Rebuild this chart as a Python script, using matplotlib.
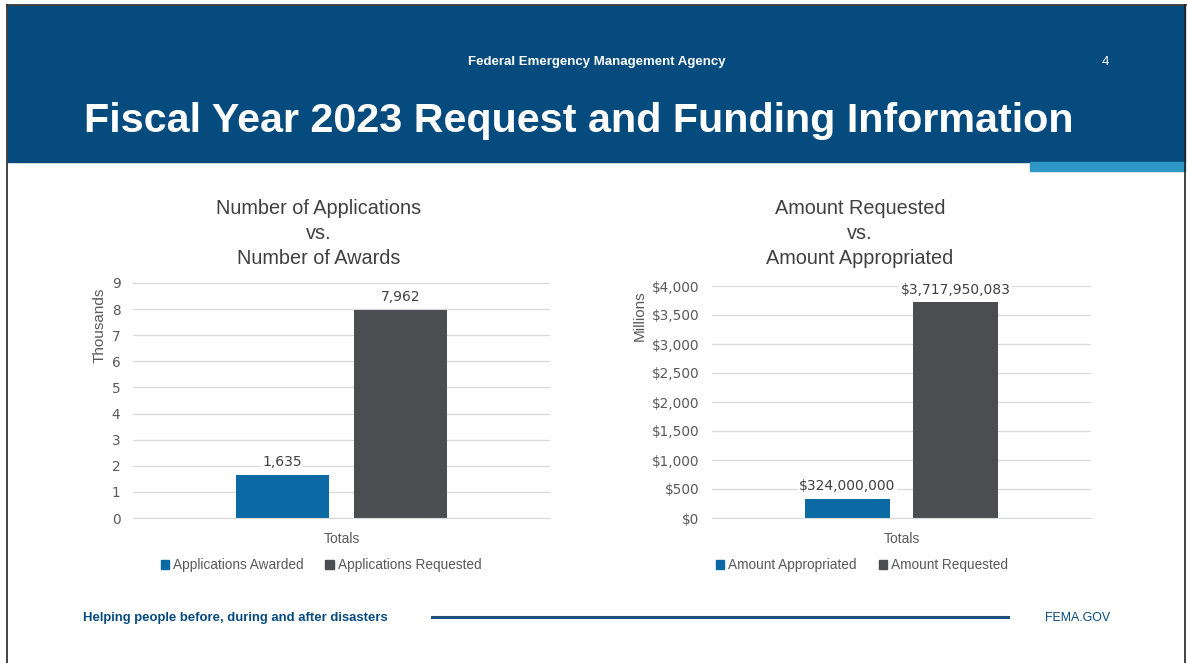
import matplotlib
matplotlib.use('Agg')
import matplotlib.pyplot as plt
from matplotlib.patches import Rectangle, Patch
from matplotlib.lines import Line2D

# data
categories = ['Totals']
app_series = ['Applications Awarded', 'Applications Requested']
app_values = [1635, 7962]
amt_series = ['Amount Appropriated', 'Amount Requested']
amt_values = [324000000, 3717950083]
app_ticks = list(range(0, 10))
amt_ticks = list(range(0, 4001, 500))

W, H = 1188, 663
BLUE_HDR = '#064b7e'
ACCENT = '#2f97c6'
BAR_COLORS = ['#0b6aa3', '#4b4d50']
TXT = '#404040'
TICK = '#595959'
WORD_FONT = ['Liberation Sans', 'DejaVu Sans']
NUM_FONT = ['DejaVu Sans']
COND_FONT = ['Liberation Sans Narrow', 'Liberation Sans', 'DejaVu Sans']

fig = plt.figure(figsize=(W / 100, H / 100), dpi=100)
fig.patch.set_facecolor('white')


def px(x, y):
    return x / W, 1 - y / H


def fig_rect(x0, y0, x1, y1, color):
    fig.patches.append(Rectangle(px(x0, y1), (x1 - x0) / W, (y1 - y0) / H,
                                 transform=fig.transFigure, color=color, zorder=0))


def fig_line(x0, y0, x1, y1, color, lw):
    a, b = px(x0, y0)
    c, d = px(x1, y1)
    fig.lines.append(Line2D([a, c], [b, d], transform=fig.transFigure, color=color, lw=lw))


def fit_text(s, x0, x1, y, size, **kw):
    # draw text left aligned and shrink/grow it to span x0..x1 pixels
    t = fig.text(*px(x0, y), s, fontsize=size, ha='left', va='center', **kw)
    r = fig.canvas.get_renderer()
    w = t.get_window_extent(r).width
    t.set_fontsize(size * (x1 - x0) / w)
    return t


# header band
fig_rect(8, 6, 1185, 162, BLUE_HDR)
fig_rect(1030, 162, 1185, 171, ACCENT)
fig_line(7, 5, 1186, 5, '#222222', 1.2)
fig_line(7, 5, 7, 663, '#222222', 1.2)
fig_line(1185, 5, 1185, 663, '#222222', 1.2)

fit_text('Federal Emergency Management Agency', 468, 725, 62, 9, color='white',
         family=COND_FONT, fontweight='bold')
fig.text(*px(1105, 62), '4', color='white', fontsize=9.5, ha='center', va='center',
         family=WORD_FONT)
fit_text('Fiscal Year 2023 Request and Funding Information', 84, 1073, 121, 28,
         color='white', family=WORD_FONT, fontweight='heavy')

# footer
fit_text('Helping people before, during and after disasters', 83, 390, 618, 9,
         color=BLUE_HDR, family=COND_FONT, fontweight='bold')
fig_line(432, 617, 1008, 617, '#1d4f78', 2.2)
fit_text('FEMA.GOV', 1045, 1110, 618, 9, color=BLUE_HDR, family=COND_FONT)


def bar_chart(box, series, values, scale, ticks, tick_fmt, label_fmt, unit,
              unit_xy, title, title_x, legend_x, bar_w, offset):
    x0, y0, x1, y1 = box
    ax = fig.add_axes([x0 / W, 1 - y1 / H, (x1 - x0) / W, (y1 - y0) / H])
    for i, (name, v) in enumerate(zip(series, values)):
        xpos = 0 + (i - 0.5) * 2 * offset
        ax.bar(xpos, v / scale, width=bar_w, color=BAR_COLORS[i], zorder=2, label=name)
        ax.text(xpos, v / scale + ticks[-1] * 0.025, label_fmt(v), ha='center', va='bottom',
                fontsize=10, color=TXT, family=NUM_FONT, zorder=3,
                bbox=dict(facecolor='white', edgecolor='none', pad=1))
    ax.set_xlim(-0.5, 0.5)
    ax.set_ylim(ticks[0], ticks[-1])
    ax.set_yticks(ticks)
    ax.set_yticklabels([tick_fmt(t) for t in ticks], family=NUM_FONT, fontsize=9.8, color=TICK)
    ax.set_xticks([0])
    ax.set_xticklabels(categories, family=WORD_FONT, fontsize=10, color=TICK)
    ax.tick_params(axis='both', length=0)
    ax.tick_params(axis='y', pad=9)
    ax.tick_params(axis='x', pad=10)
    ax.grid(axis='y', color='#d9d9d9', lw=0.9, zorder=0)
    for s in ax.spines.values():
        s.set_visible(False)
    ax.spines['bottom'].set_visible(True)
    ax.spines['bottom'].set_color('#d9d9d9')

    fig.text(*px(*unit_xy), unit, rotation=90, ha='center', va='center',
             fontsize=11, color=TICK, family=WORD_FONT)
    for k, line in enumerate(title):
        fig.text(*px(title_x, 208 + k * 25.5), line, ha='center', va='center',
                 fontsize=14.3, color=TXT, family=WORD_FONT)
    handles = [Patch(color=c, label=n) for c, n in zip(BAR_COLORS, series)]
    fig.legend(handles=handles, loc='center', bbox_to_anchor=px(legend_x, 565), ncol=2,
               frameon=False, handlelength=0.6, handleheight=0.6, handletextpad=0.3,
               columnspacing=1.6, prop={'family': WORD_FONT, 'size': 9.8},
               labelcolor=TICK)
    return ax


bar_chart((133, 283, 550, 518), app_series, app_values, 1000, app_ticks,
          lambda t: f'{t}', lambda v: f'{v:,}', 'Thousands', (100, 325),
          ['Number of Applications', 'vs.', 'Number of Awards'], 319, 321,
          93 / 417, 59.25 / 417)

bar_chart((712, 286, 1091, 518), amt_series, amt_values, 1e6, amt_ticks,
          lambda t: f'${t:,}', lambda v: f'${v:,}', 'Millions', (640, 316),
          ['Amount Requested', 'vs.', 'Amount Appropriated'], 860, 862,
          85 / 379, 54 / 379)

fig.savefig('out.png', dpi=100, facecolor='white')
